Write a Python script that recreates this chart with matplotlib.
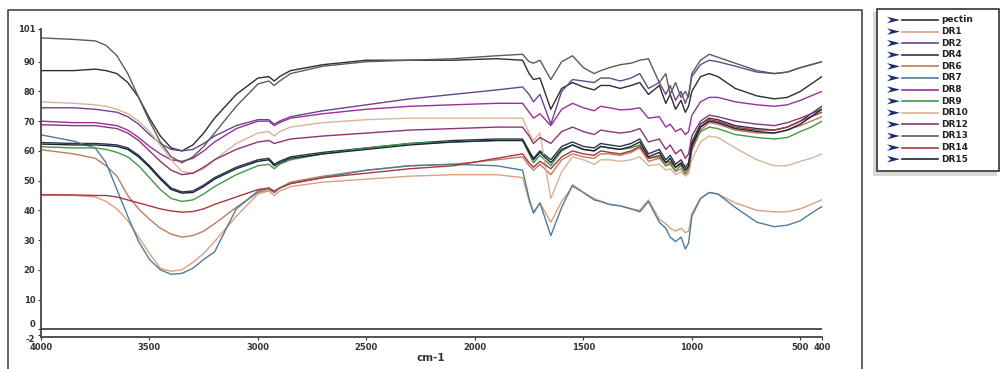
import matplotlib
matplotlib.use('Agg')
import matplotlib.pyplot as plt
from matplotlib.patches import Rectangle, Polygon
from matplotlib.lines import Line2D

# wavenumber grid (cm-1) (%T)
wavenumber = [4000, 3850, 3750, 3700, 3650, 3600, 3550, 3500, 3450, 3400,
              3350, 3300, 3250, 3200, 3100, 3000, 2950, 2925, 2900, 2850,
              2700, 2500, 2300, 2100, 1900, 1780, 1750, 1730, 1700, 1650,
              1600, 1550, 1500, 1450, 1420, 1380, 1330, 1280, 1240, 1200,
              1150, 1120, 1100, 1075, 1050, 1030, 1015, 1000, 960, 920,
              880, 800, 700, 620, 560, 500, 450, 400]

pectin = [87, 87, 87.5, 87, 86, 83, 78, 71, 65, 61,
          60, 62, 66, 71, 79, 84.5, 85, 83.5, 85, 87,
          89, 90.5, 90.5, 90.5, 91, 90.5, 86, 84, 84.5, 74,
          81, 83, 81.5, 80.5, 82, 82, 81, 82, 83, 79,
          82, 76, 79, 74, 77, 73, 75, 80, 85, 86,
          85, 81, 78.5, 77.5, 78, 80, 82.5, 85]
dr1 = [45, 45, 44.5, 43, 40.5, 36.5, 31, 25.5, 20.5, 19.5,
       20, 22.5, 25.5, 29.5, 38, 45.5, 46.5, 45, 46.5, 48,
       49.5, 50.5, 51.5, 52, 52, 51, 43, 39.5, 42.5, 36,
       43, 48, 46, 44, 43, 42, 41.5, 40.5, 40, 43.5,
       37, 35.5, 34, 33, 34, 32.5, 33, 39, 44, 46,
       45.5, 42.5, 40, 39.5, 39.5, 40.5, 42, 43.6]
dr2 = [74.5, 74.5, 74, 73.5, 73, 71.5, 69, 65.5, 62.5, 60.5,
       60, 60.5, 62.5, 65, 68.5, 70.5, 70.5, 69, 70, 71.5,
       73.5, 75.5, 77.5, 79, 80.5, 81.5, 79, 76.5, 79, 69,
       80, 84, 83.5, 83, 84.5, 84.5, 83.5, 84.5, 86, 81,
       83, 79, 82, 77, 80, 76, 79, 85, 89, 90.5,
       90, 88.5, 86.5, 86, 86.5, 88, 89, 90]
dr4 = [62.8, 62.5, 62.5, 62.3, 62, 61, 58.5, 55, 51, 47.5,
       46.2, 46.5, 48.5, 51, 54.5, 57, 57.5, 55.5, 56.5, 58,
       59.5, 61, 62.5, 63.5, 64, 64, 60, 57.5, 60, 57,
       61.5, 63, 61.5, 61, 62.5, 62, 61.5, 62.5, 64, 59,
       60.5, 57, 58.5, 55.5, 57, 54.5, 56, 63, 69, 71,
       70.5, 68.5, 67.5, 67, 68, 70, 72.5, 75]
dr6 = [60.4, 59, 57.5, 55, 51.5, 45, 40.5, 37, 34, 32,
       31, 31.5, 33, 35.5, 41, 46, 47, 46, 47.5, 49.5,
       51.5, 53.5, 55, 55.5, 57, 58, 55, 53.5, 55.5, 52,
       57, 59, 58, 57.5, 59, 59, 58.5, 59.5, 61, 56.5,
       57.5, 55, 55.5, 53, 54, 52, 53, 60, 67, 69.5,
       69, 67, 66, 66, 67, 68.5, 70, 71.5]
dr7 = [65.4, 63.3, 61, 56, 47, 38, 29.5, 23.5, 20, 18.5,
       18.8, 20.5, 23.5, 26, 40.5, 46.5, 47.5, 46, 47.5, 49,
       51, 53.5, 55, 55.5, 55, 53.5, 44, 39, 42.5, 31.5,
       41, 48.5, 46, 43.5, 43, 42, 41.5, 40.5, 39.5, 43,
       36, 34, 31, 29.5, 31, 27, 29, 38, 44, 46,
       45.5, 41, 36, 34.5, 35, 36.5, 39, 41.3]
dr8 = [70, 69.5, 69.5, 69, 68.5, 67, 64.5, 61.5, 59, 57,
       56.5, 57.5, 60, 63, 67.5, 70, 70, 68.5, 69.5, 71,
       72.5, 74, 75, 75.5, 76, 76, 73, 71, 72.5, 68.5,
       74, 76, 74.5, 73.5, 75, 74.5, 73.8, 74, 74.5, 71,
       71.5, 68, 69, 66.5, 67.5, 65.5, 66.5, 72, 76.5, 78,
       78, 76.5, 75.5, 75, 75.5, 77, 78.5, 80]
dr9 = [61.4, 61, 61, 60.5, 59.5, 58, 55, 51, 47, 44,
       43, 43.5, 45.5, 48, 52, 55, 55.5, 54, 55.5, 57,
       59, 61, 62.5, 63, 63.5, 63.5, 59, 56, 58.5, 55,
       60, 62, 60.5, 60, 61.5, 61, 60.5, 61, 62, 57.5,
       58, 55, 56, 53.5, 55, 52.5, 54, 61, 66.5, 68,
       67.5, 65.5, 64.5, 64, 64.5, 66.5, 68, 70]
dr10 = [76.5, 76, 75.5, 75, 74, 72.5, 70, 66.5, 62, 57,
        53, 52.5, 54, 57, 62.5, 66, 66.5, 65, 66.5, 68,
        69.5, 70.5, 71, 71, 71, 71, 66, 63.5, 66, 44,
        53, 58, 57, 55.5, 57, 57, 56.5, 57, 58, 55,
        55.5, 53.5, 54, 52, 53, 51.5, 52.5, 57, 63, 65,
        64.5, 61, 57, 55, 55, 56.5, 57.5, 59]
dr12 = [68.8, 68.5, 68.5, 68, 67.5, 66, 63.5, 60, 56.5, 53.5,
        52, 52.5, 54.5, 57, 60.5, 63, 63.5, 62.5, 63, 64,
        65, 66, 67, 67.5, 68, 68, 65, 62.5, 64.5, 62.5,
        66.5, 68, 66.5, 65.5, 67, 66.5, 66, 66.5, 67.5, 63,
        64, 60.5, 62, 59, 60.5, 57.5, 59, 65, 70, 72,
        71.5, 70, 69, 68.5, 69.5, 71, 72.5, 74]
dr13 = [98, 97.5, 97, 95.5, 92, 86, 78, 70, 63, 58,
        56, 58, 61.5, 66, 75, 82.5, 83.5, 82, 83.5, 86,
        88.5, 90, 90.5, 91, 92, 92.5, 90, 89.5, 90.5, 84,
        90, 92, 88, 86, 87, 88, 89, 89.5, 90.5, 91,
        83, 86, 79, 83, 78, 80, 78, 86, 90.5, 92.5,
        91.5, 89.5, 87, 86, 86.5, 88, 89, 90]
dr14 = [45.3, 45.2, 45, 45, 44.5, 43.5, 42.5, 41.5, 40.5, 39.8,
        39.4, 39.6, 40.5, 42, 44.5, 47, 47.5, 46.5, 47.5, 49,
        51, 52.5, 54, 55, 57.5, 59, 56, 54.5, 56.5, 54,
        58, 60, 59, 58.5, 60, 59.5, 59, 60, 61.5, 57.5,
        58.5, 56, 56.5, 54.5, 55.5, 53.5, 54.5, 61, 68, 70.5,
        70, 68, 67, 67, 68, 70, 71.5, 73]
dr15 = [62.3, 62, 62, 61.8, 61.5, 60.5, 58, 54.5, 50.5, 47,
        45.8, 46, 48, 50.5, 54, 56.5, 57, 55, 56, 57.5,
        59, 60.5, 62, 63, 63.5, 63.5, 59.5, 57, 59.5, 56,
        60.5, 62, 60.5, 60, 61.5, 61, 60.5, 61.5, 63, 58,
        59.5, 56, 57.5, 54.5, 56, 53.5, 55, 62, 68, 70,
        69.5, 67.5, 66.5, 66, 67, 69, 71.5, 74]

labels = ['pectin', 'DR1', 'DR2', 'DR4', 'DR6', 'DR7', 'DR8', 'DR9',
          'DR10', 'DR12', 'DR13', 'DR14', 'DR15']
spectra = [pectin, dr1, dr2, dr4, dr6, dr7, dr8, dr9,
           dr10, dr12, dr13, dr14, dr15]
colors = ['#2e2e33', '#dc9f80', '#6b4490', '#2a3550', '#bf7a60', '#4f7c9c',
          '#9a2f9c', '#3f9a48', '#d9b597', '#8c3474', '#5c5c5c', '#a8383c',
          '#1d2433']

xticks = [4000, 3500, 3000, 2500, 2000, 1500, 1000, 500, 400]
yticks = [101, 90, 80, 70, 60, 50, 40, 30, 20, 10, 0, -2]

W, H = 1005, 369
def fx(px):
    return px / W
def fy(py):
    return 1 - py / H

fig = plt.figure(figsize=(W / 100, H / 100), dpi=100)

# outer frame of the graph window
fig.add_artist(Line2D([fx(8), fx(8), fx(862), fx(862)],
                      [fy(380), fy(10), fy(10), fy(380)],
                      color='#555555', lw=1.3))

ax = fig.add_axes([fx(41), fy(337), fx(822) - fx(41), fy(29) - fy(337)])
for s, c in zip(spectra, colors):
    ax.plot(wavenumber, s, color=c, lw=1.0)
ax.set_xlim(4000, 400)
ax.set_ylim(-2.6, 101)
ax.axhline(0, color='#444444', lw=1.3)
for side in ['top', 'right']:
    ax.spines[side].set_visible(False)
for side in ['left', 'bottom']:
    ax.spines[side].set_color('#444444')
    ax.spines[side].set_linewidth(1.3)
ax.set_xticks(xticks)
ax.set_xticklabels([str(t) for t in xticks])
ax.set_yticks(yticks)
ax.set_yticklabels([str(t) for t in yticks])
ax.tick_params(length=2.5, width=0.8, labelsize=6, pad=1.5,
               colors='#333333')
for lbl in ax.get_xticklabels() + ax.get_yticklabels():
    lbl.set_fontweight('bold')
ylbls = ax.get_yticklabels()
ylbls[-2].set_va('bottom')
ylbls[-1].set_va('top')
ax.set_facecolor('none')

fig.text(fx(431), fy(358), 'cm-1', ha='center', va='center',
         fontsize=7.5, fontweight='bold', color='#333333')

# legend panel
lg = fig.add_axes([fx(870), fy(180), fx(1005) - fx(870), fy(4) - fy(180)])
lg.set_xlim(870, 1005)
lg.set_ylim(180, 4)
lg.axis('off')
lg.add_patch(Rectangle((873, 12), 124, 164, facecolor='#c8c8c8',
                       edgecolor='none', alpha=0.7))
lg.add_patch(Rectangle((877, 9), 122, 162, facecolor='white',
                       edgecolor='#333333', lw=1.2))
for i, (lab, c) in enumerate(zip(labels, colors)):
    y = 20 + i * 11.6
    lg.add_patch(Polygon([(887, y - 3.3), (900, y), (887, y + 3.3), (891, y)],
                         closed=True, facecolor='#1c2a6e', edgecolor='none'))
    lg.plot([902, 938], [y, y], color=c, lw=1.2)
    lg.text(941, y, lab, ha='left', va='center', fontsize=6.5,
            fontweight='bold', color='#222222')

fig.savefig('out.png', dpi=100)
